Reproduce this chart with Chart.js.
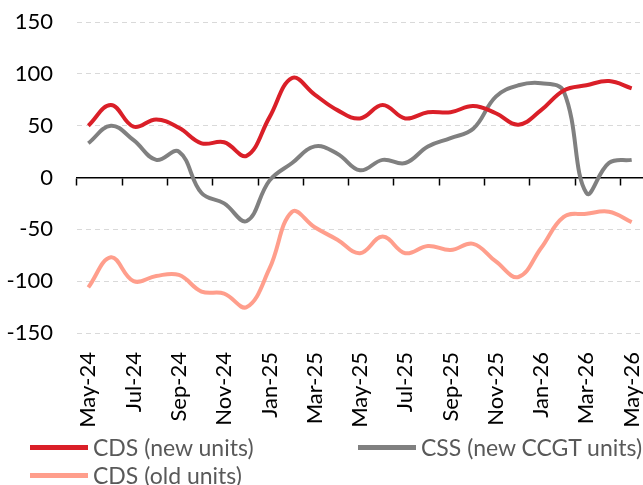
<!DOCTYPE html>
<html>
<head>
<meta charset="utf-8">
<script src="https://cdn.jsdelivr.net/npm/chart.js@4.4.1/dist/chart.umd.min.js"></script>
<style>
  html, body { margin: 0; padding: 0; background: #fff; }
  #wrap { position: relative; width: 643px; height: 485px; overflow: hidden; }
  #legend {
    position: absolute; left: 30px; top: 433px;
    display: grid; grid-template-columns: 328px auto;
    font-family: Lato, sans-serif; font-size: 23px; color: #595959;
  }
  .item { display: flex; align-items: center; height: 28px; white-space: nowrap; }
  .swatch { width: 58px; height: 5px; margin-right: 5px; }
</style>
</head>
<body>
<div id="wrap">
  <canvas id="chart" width="643" height="485"></canvas>
  <div id="legend"></div>
</div>
<script>
const months = ['May-24','Jun-24','Jul-24','Aug-24','Sep-24','Oct-24','Nov-24','Dec-24',
  'Jan-25','Feb-25','Mar-25','Apr-25','May-25','Jun-25','Jul-25','Aug-25','Sep-25','Oct-25',
  'Nov-25','Dec-25','Jan-26','Feb-26','Mar-26','Apr-26','May-26']

const cdsNew = [50, 70, 49, 56, 48, 33, 34, 21, 58, 96, 80, 65, 57, 70, 57, 63, 63, 69, 62, 51, 65, 84, 89, 93, 86]
const cssNew = [33, 50, 36, 17, 25, -15, -25, -42, -3, 14, 30, 23, 7, 17, 14, 30, 38, 47, 78, 89, 91, 83, -15, 14, 17]
const cdsOld = [-106, -77, -100, -95, -94, -110, -112, -125, -88, -33, -48, -60, -73, -57, -73, -66, -70, -64, -81, -96, -68, -38, -35, -33, -43]

const yTicks = [-150, -100, -50, 0, 50, 100, 150]

Chart.defaults.font.family = 'Lato, sans-serif'
Chart.defaults.color = '#000'

// legend drawn as html so the two columns line up like the original
const htmlLegend = {
    id: 'htmlLegend',
    afterUpdate(chart) {
        const box = document.getElementById('legend')
        box.innerHTML = ''
        const items = chart.options.plugins.legend.labels.generateLabels(chart)
        items.forEach(it => {
            const div = document.createElement('div')
            div.className = 'item'
            const sw = document.createElement('span')
            sw.className = 'swatch'
            sw.style.background = it.strokeStyle
            const txt = document.createElement('span')
            txt.textContent = it.text
            div.appendChild(sw)
            div.appendChild(txt)
            box.appendChild(div)
        })
    }
}

// plot area runs right up to the canvas edge
const noSidePadding = s => { s.paddingLeft = 0; s.paddingRight = 0 }

const data = {
    labels: months,
    datasets: [
        { label: 'CDS (new units)', data: cdsNew, borderColor: '#DA1F28', backgroundColor: '#DA1F28' },
        { label: 'CSS (new CCGT units)', data: cssNew, borderColor: '#808080', backgroundColor: '#808080' },
        { label: 'CDS (old units)', data: cdsOld, borderColor: '#FF9E8C', backgroundColor: '#FF9E8C' }
    ]
}

const options = {
    responsive: false,
    animation: false,
    layout: { padding: { top: 22, left: 0, right: 0, bottom: 0 } },
    elements: {
        line: { borderWidth: 4, tension: 0.4 },
        point: { radius: 0 }
    },
    plugins: {
        legend: { display: false },
        tooltip: { enabled: false }
    },
    scales: {
        x: {
            type: 'category',
            offset: true,
            grid: { display: false, drawTicks: false },
            border: { display: false },
            afterFit: s => { s.height = 152; noSidePadding(s) },
            ticks: {
                autoSkip: false,
                minRotation: 90,
                maxRotation: 90,
                padding: 19,
                font: { size: 22 },
                callback: (v, i) => i % 2 === 0 ? months[i] : ''
            }
        },
        // axis line at zero with tick marks every two months
        xZero: {
            type: 'category',
            axis: 'x',
            position: { y: 0 },
            offset: true,
            afterFit: s => { s.height = 0; noSidePadding(s) },
            grid: {
                drawOnChartArea: false,
                drawTicks: true,
                tickLength: 7,
                tickWidth: 1.5,
                offset: true,
                tickColor: ctx => ctx.index % 2 === 0 ? '#000' : 'rgba(0,0,0,0)'
            },
            border: { display: true, color: '#000', width: 1.5 },
            ticks: { display: false, autoSkip: false }
        },
        y: {
            min: -150,
            max: 150,
            afterFit: s => { s.width = 77 },
            afterBuildTicks: s => { s.ticks = yTicks.map(v => ({ value: v })) },
            border: { display: false, dash: [5, 4] },
            grid: {
                drawTicks: true,
                tickLength: 24,
                tickColor: 'rgba(0,0,0,0)',
                color: ctx => ctx.tick && ctx.tick.value === 0 ? 'rgba(0,0,0,0)' : '#d9d9d9',
                lineWidth: 1
            },
            ticks: { padding: 0, font: { size: 22 } }
        }
    }
}

new Chart('chart', { type: 'line', data, options, plugins: [htmlLegend] })
</script>
</body>
</html>
